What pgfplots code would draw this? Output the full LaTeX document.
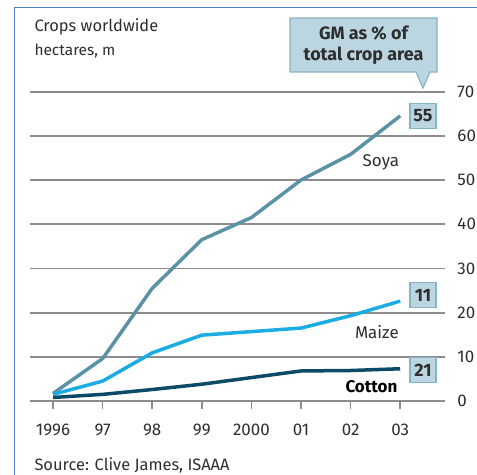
\documentclass[border=0pt]{standalone}
\usepackage{pgfplots}
\pgfplotsset{compat=1.18}
\usepackage{fontspec}
\setmainfont{Fira Sans}
\definecolor{soya}{HTML}{5B92A6}
\definecolor{maize}{HTML}{1AACE3}
\definecolor{cotton}{HTML}{0B4B68}
\definecolor{boxfill}{HTML}{BBD6E1}
\definecolor{boxdraw}{HTML}{86B3C6}
\definecolor{gridc}{HTML}{8C8C8C}
\definecolor{txt}{HTML}{2E2E2E}
\definecolor{frame}{HTML}{4D7FC6}
\begin{document}
\begin{tikzpicture}[x=1bp,y=1bp]
\path[use as bounding box] (0,0) rectangle (477,-475);
\draw[frame, line width=1.8bp] (14.5,-475) -- (14.5,-7.5) -- (477,-7.5);
\begin{axis}[
  at={(30bp,-401bp)}, anchor=south west,
  scale only axis,
  width=415bp, height=309.4bp,
  xmin=1995.536, xmax=2003.903,
  ymin=0, ymax=70,
  axis line style={draw=none},
  ymajorgrids,
  grid style={gridc, line width=1.8bp},
  ytick={0,10,...,70},
  yticklabel pos=right,
  ytick style={draw=none},
  xtick={1996,...,2003},
  xticklabels={1996,97,98,99,2000,01,02,03},
  xtick pos=bottom,
  tick align=outside,
  major tick length=8bp,
  xtick style={gridc, line width=1.5bp},
  ticklabel style={font=\fontsize{17}{17}\selectfont, text=txt},
  /pgf/number format/assume math mode=true,
  xticklabel style={yshift=-11bp},
  yticklabel style={xshift=1bp},
  clip=false,
]
\addplot[soya, line width=3.5bp, line join=round] coordinates {
 (1996,1.7) (1997,9.6) (1998,25.5) (1999,36.5) (2000,41.5) (2001,50) (2002,55.8) (2003,64.5)};
\addplot[maize, line width=3.5bp, line join=round] coordinates {
 (1996,1.5) (1997,4.5) (1998,10.9) (1999,14.9) (2000,15.7) (2001,16.5) (2002,19.3) (2003,22.6)};
\addplot[cotton, line width=3.5bp, line join=round] coordinates {
 (1996,0.8) (1997,1.5) (1998,2.6) (1999,3.8) (2000,5.3) (2001,6.8) (2002,6.9) (2003,7.3)};
\node[fill=boxfill, draw=boxdraw, line width=1.2bp, minimum width=26bp, minimum height=25bp, inner sep=1bp, text=txt, font=\fontsize{18}{18}\selectfont\bfseries] at (axis cs:2003.46,64.5) {55};
\node[fill=boxfill, draw=boxdraw, line width=1.2bp, minimum width=26bp, minimum height=25bp, inner sep=1bp, text=txt, font=\fontsize{18}{18}\selectfont\bfseries] at (axis cs:2003.46,23.9) {11};
\node[fill=boxfill, draw=boxdraw, line width=1.2bp, minimum width=26bp, minimum height=25bp, inner sep=1bp, text=txt, font=\fontsize{18}{18}\selectfont\bfseries] at (axis cs:2003.46,7.0) {21};
\node[text=txt, font=\fontsize{17}{17}\selectfont] at (axis cs:2002.61,54.1) {Soya};
\node[text=txt, font=\fontsize{17}{17}\selectfont] at (axis cs:2002.53,15.7) {Maize};
\node[text=black, font=\fontsize{17}{17}\selectfont\bfseries] at (axis cs:2002.42,3.2) {Cotton};
\end{axis}
\draw[fill=boxfill, draw=boxdraw, line width=1.2bp]
  (290,-18) -- (437,-18) -- (437,-72) -- (430,-72) -- (423,-88) -- (416,-72) -- (290,-72) -- cycle;
\node[text=txt, font=\fontsize{18}{21}\selectfont\bfseries, align=center] at (363.5,-45) {GM as \% of\\total crop area};
\node[anchor=base west, text=txt, font=\fontsize{16.5}{16.5}\selectfont] at (31,-32) {Crops worldwide};
\node[anchor=base west, text=txt, font=\fontsize{15.5}{15.5}\selectfont] at (31,-56) {hectares, m};
\node[anchor=base west, text=txt, font=\fontsize{16.5}{16.5}\selectfont] at (31,-470) {Source: Clive James, ISAAA};
\end{tikzpicture}
\end{document}
